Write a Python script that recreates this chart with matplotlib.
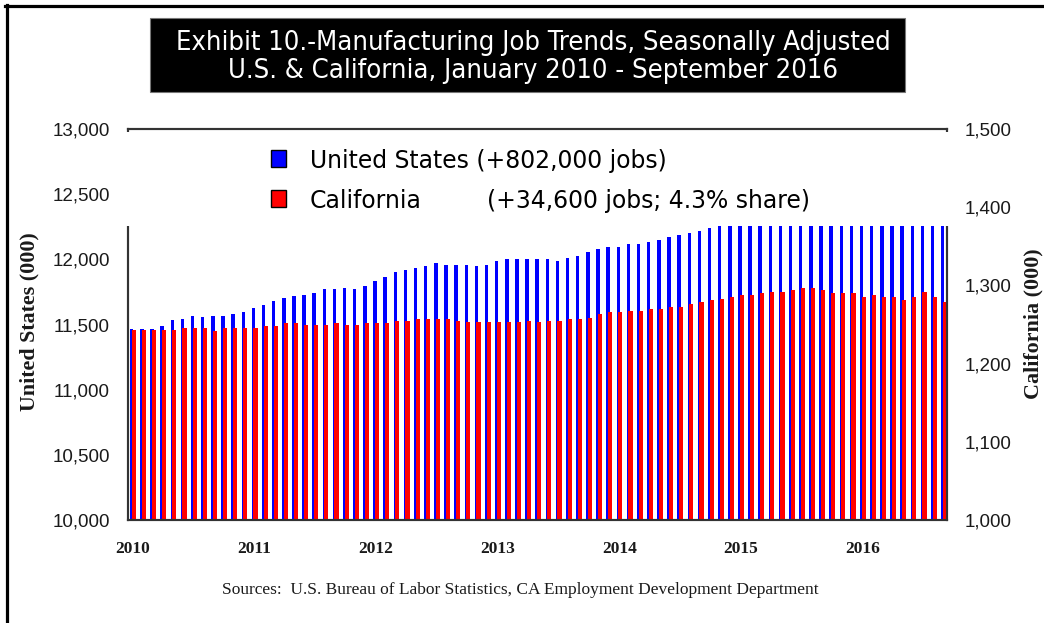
import matplotlib
matplotlib.use("Agg")
import matplotlib.pyplot as plt
from matplotlib.patches import Rectangle
from matplotlib.lines import Line2D
from matplotlib import font_manager
import numpy as np

# Monthly manufacturing employment (thousands), Jan 2010 - Sep 2016
years = ["2010", "2011", "2012", "2013", "2014", "2015", "2016"]

us_jobs = [
    11462, 11462, 11462, 11487, 11531, 11543, 11569, 11556, 11569, 11569, 11582, 11599,
    11625, 11650, 11679, 11704, 11717, 11730, 11742, 11770, 11770, 11783, 11770, 11796,
    11837, 11865, 11906, 11918, 11934, 11946, 11972, 11959, 11959, 11959, 11946, 11959,
    11985, 12000, 12000, 12000, 12000, 12000, 11985, 12013, 12026, 12054, 12079, 12092,
    12092, 12120, 12120, 12133, 12145, 12173, 12186, 12199, 12214, 12240, 12270, 12290,
    12300, 12310, 12315, 12310, 12320, 12325, 12330, 12325, 12320, 12315, 12320, 12315,
    12310, 12300, 12290, 12285, 12280, 12290, 12285, 12275, 12264,
]

ca_jobs = [
    1243.6, 1243.6, 1243.6, 1243.6, 1243.6, 1245.7, 1245.7, 1245.7, 1241.5, 1245.7, 1245.7, 1245.7,
    1245.7, 1247.9, 1247.9, 1252.1, 1252.1, 1250.0, 1250.0, 1250.0, 1252.1, 1250.0, 1250.0, 1252.1,
    1252.1, 1252.1, 1254.7, 1254.7, 1256.8, 1256.8, 1256.8, 1256.8, 1254.7, 1252.6, 1252.6, 1252.6,
    1252.6, 1252.6, 1252.6, 1254.7, 1252.6, 1254.7, 1254.7, 1256.8, 1256.8, 1258.9, 1263.2, 1265.7,
    1265.7, 1267.9, 1267.9, 1270.0, 1270.0, 1272.1, 1272.1, 1276.8, 1278.9, 1281.0, 1283.2, 1285.7,
    1287.8, 1287.8, 1290.0, 1292.1, 1292.1, 1294.6, 1296.8, 1296.8, 1294.6, 1290.0, 1290.0, 1290.0,
    1285.7, 1287.8, 1285.7, 1285.7, 1281.0, 1285.7, 1292.1, 1285.7, 1278.2,
]

us_ticks = [10000, 10500, 11000, 11500, 12000, 12500, 13000]
ca_ticks = [1000, 1100, 1200, 1300, 1400, 1500]

title_lines = [
    "Exhibit 10.-Manufacturing Job Trends, Seasonally Adjusted",
    "U.S. & California, January 2010 - September 2016",
]
us_legend = "United States (+802,000 jobs)"
ca_legend_name = "California"
ca_legend_note = "(+34,600 jobs; 4.3% share)"
us_axis_title = "United States (000)"
ca_axis_title = "California (000)"
source_note = "Sources:  U.S. Bureau of Labor Statistics, CA Employment Development Department"

SERIF = ["Liberation Serif", "DejaVu Serif"]
SANS = ["Liberation Sans", "DejaVu Sans"]
BLUE = "#0000ff"
RED = "#ff0000"
AXIS = "#333333"
TEXT = "#1a1a1a"

# narrow face for the title banner
narrow_path = None
for f in font_manager.fontManager.ttflist:
    if f.name == "DejaVu Sans" and f.stretch == "condensed" and f.style == "normal" \
            and f.weight in (400, "normal"):
        narrow_path = f.fname
        break
if narrow_path is None:
    for f in font_manager.fontManager.ttflist:
        if "Narrow" in f.name or "Condensed" in f.name:
            narrow_path = f.fname
            break
title_font = dict(fontproperties=font_manager.FontProperties(fname=narrow_path)) \
    if narrow_path else dict(family=SANS)

W, H = 1044, 623
fig = plt.figure(figsize=(W / 100, H / 100), dpi=100)
fig.patch.set_facecolor("white")


def fx(px):
    return px / W


def fy(py):
    return 1 - py / H


renderer = fig.canvas.get_renderer()


def fit(txt, target_px, vertical=False):
    bb = txt.get_window_extent(renderer=renderer)
    size = bb.height if vertical else bb.width
    txt.set_fontsize(txt.get_fontsize() * target_px / size)
    return txt


# plot area
L, R, B, T = 128, 947, 520, 129
ax = fig.add_axes([fx(L), fy(B), fx(R - L), (B - T) / H])
ax2 = ax.twinx()

n = len(us_jobs)
x = np.arange(n)
ax.bar(x, us_jobs, width=0.34, align="edge", color=BLUE, edgecolor="none")
ax2.bar(x + 0.17, ca_jobs, width=0.41, align="edge", color=RED, edgecolor="none")

ax.set_xlim(-0.2, n - 0.4)
ax.set_ylim(us_ticks[0], us_ticks[-1])
ax2.set_ylim(ca_ticks[0], ca_ticks[-1])

ax.set_yticks(us_ticks)
ax.set_yticklabels([f"{v:,}" for v in us_ticks], family=SANS, fontsize=13.5, color=TEXT)
ax2.set_yticks(ca_ticks)
ax2.set_yticklabels([f"{v:,}" for v in ca_ticks], family=SANS, fontsize=13.5, color=TEXT)
ax.tick_params(axis="y", length=0, pad=13)
ax2.tick_params(axis="y", length=0, pad=13)

ax.set_xticks([12 * k + 0.28 for k in range(len(years))])
ax.set_xticklabels(years, family=SERIF, fontweight="bold", fontsize=12.5, color=TEXT)
ax.tick_params(axis="x", length=0, pad=15)

for a in (ax, ax2):
    for s in a.spines.values():
        s.set_color(AXIS)
        s.set_linewidth(1.5)

# white panel holding the legend, laid over the top of the plot area
fig.add_artist(Rectangle((fx(118), fy(225.5)), fx(958 - 118), (225.5 - 132) / H,
                         transform=fig.transFigure, facecolor="white",
                         edgecolor="none", zorder=5))

fig.add_artist(Rectangle((fx(271), fy(167)), fx(15), 17 / H, transform=fig.transFigure,
                         facecolor=BLUE, edgecolor="black", linewidth=1.0, zorder=6))
fig.add_artist(Rectangle((fx(271), fy(207)), fx(15), 17 / H, transform=fig.transFigure,
                         facecolor=RED, edgecolor="black", linewidth=1.0, zorder=6))
t_us = fig.text(fx(310), fy(161), us_legend, family=["DejaVu Sans"], fontsize=14,
                va="center", ha="left", color="black", zorder=7)
fit(t_us, 358)
leg_size = t_us.get_fontsize()
fig.text(fx(310), fy(201), ca_legend_name, family=["DejaVu Sans"], fontsize=leg_size,
         va="center", ha="left", color="black", zorder=7)
fig.text(fx(487), fy(201), ca_legend_note, family=["DejaVu Sans"], fontsize=leg_size,
         va="center", ha="left", color="black", zorder=7)

# title block
fig.add_artist(Rectangle((fx(150), fy(92)), fx(905 - 150), (92 - 18) / H,
                         transform=fig.transFigure, facecolor="black",
                         edgecolor="#777777", linewidth=0.8, zorder=5))
t1 = fig.text(fx(533), fy(43), title_lines[0], fontsize=17,
              color="white", ha="center", va="center", zorder=6, **title_font)
fit(t1, 712)
t2 = fig.text(fx(533), fy(71), title_lines[1], fontsize=t1.get_fontsize(),
              color="white", ha="center", va="center", zorder=6, **title_font)

# axis titles
ty1 = fig.text(fx(29), fy(322), us_axis_title, family=SERIF, fontweight="bold",
               fontsize=11, rotation=90, ha="center", va="center", color=TEXT)
fit(ty1, 178, vertical=True)
ty2 = fig.text(fx(1033), fy(324), ca_axis_title, family=SERIF, fontweight="bold",
               fontsize=ty1.get_fontsize(), rotation=90, ha="center", va="center", color=TEXT)

src = fig.text(fx(520), fy(590), source_note, family=SERIF, fontsize=10,
               ha="center", va="center", color=TEXT)
fit(src, 596)

# outer frame
fig.add_artist(Line2D([fx(5), fx(W)], [fy(5.5), fy(5.5)], transform=fig.transFigure,
                      color="black", linewidth=2.3, zorder=8))
fig.add_artist(Line2D([fx(6.5), fx(6.5)], [fy(4.5), fy(H)], transform=fig.transFigure,
                      color="black", linewidth=2.3, zorder=8))

fig.savefig("out.png", dpi=100, facecolor="white")
